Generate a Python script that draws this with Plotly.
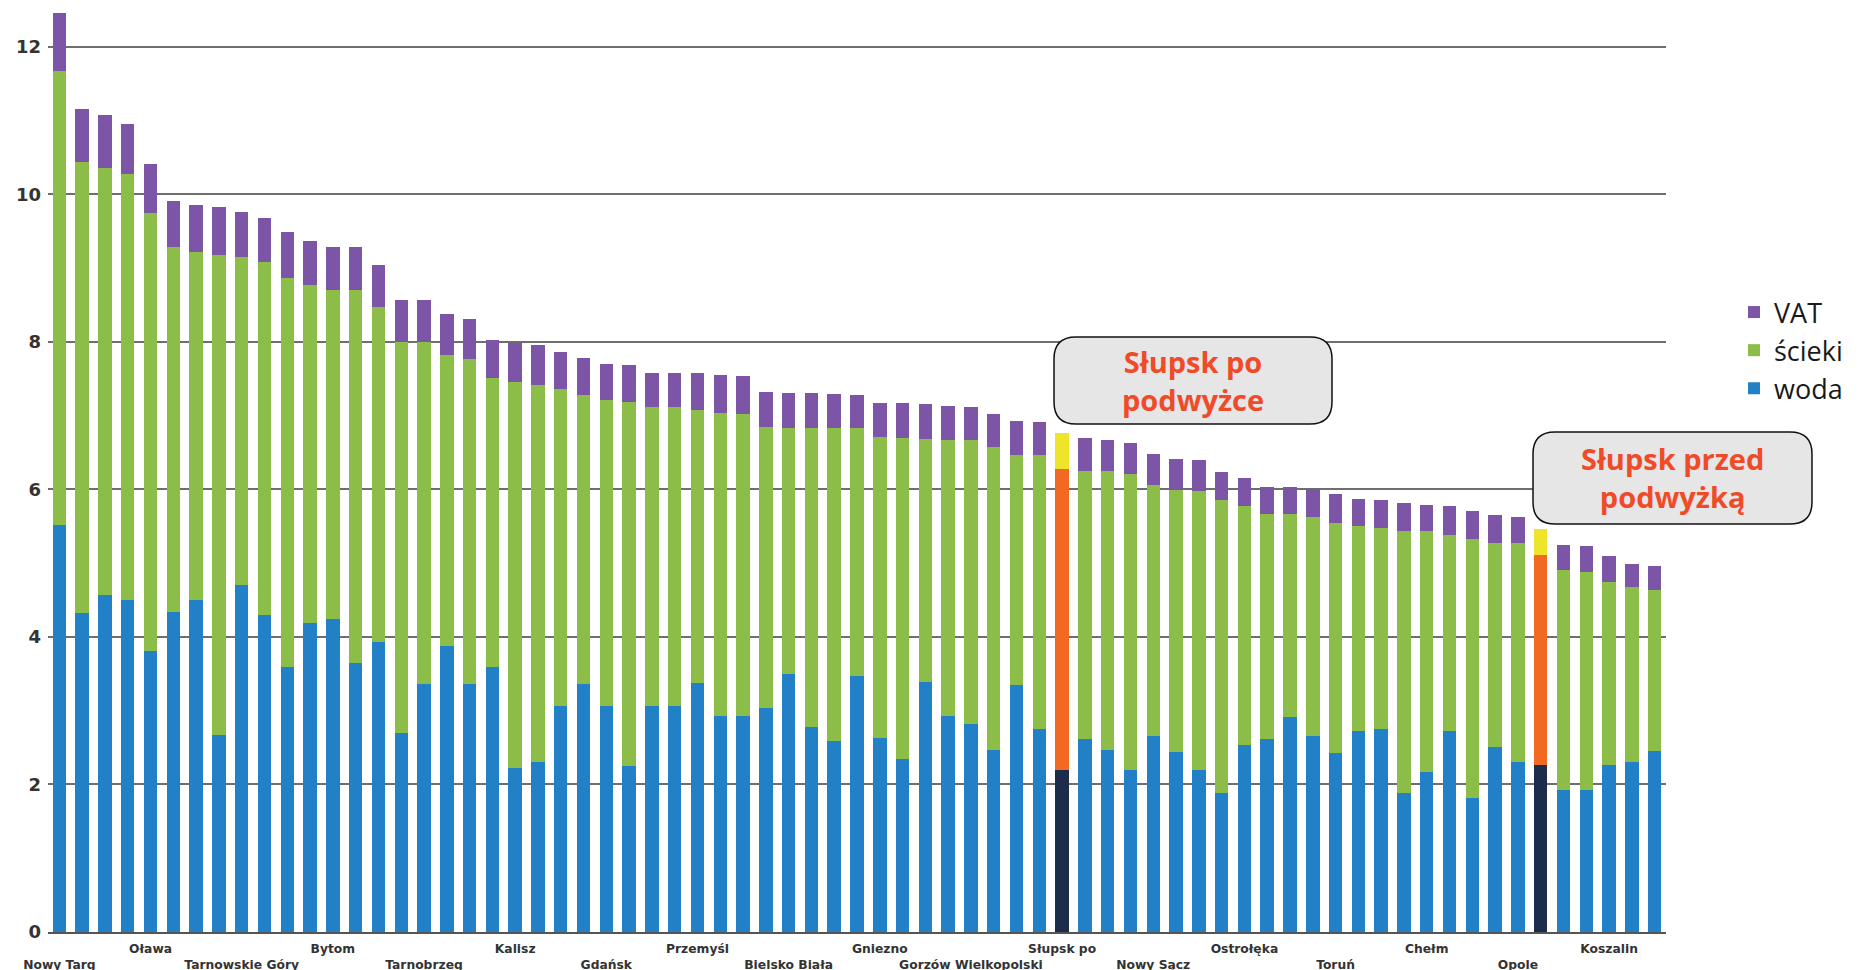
import plotly.graph_objects as go

# ---- data (zł/m3) ----
woda = [5.51, 4.32, 4.57, 4.50, 3.81, 4.34, 4.50, 2.67, 4.70, 4.30,
        3.59, 4.19, 4.24, 3.65, 3.93, 2.70, 3.36, 3.87, 3.36, 3.59,
        2.22, 2.30, 3.07, 3.36, 3.07, 2.25, 3.07, 3.07, 3.37, 2.93,
        2.93, 3.03, 3.50, 2.78, 2.59, 3.47, 2.63, 2.34, 3.39, 2.93,
        2.82, 2.47, 3.35, 2.75, 2.19, 2.62, 2.47, 2.19, 2.65, 2.44,
        2.19, 1.89, 2.54, 2.62, 2.92, 2.65, 2.43, 2.73, 2.75, 1.89,
        2.17, 2.73, 1.81, 2.51, 2.30, 2.26, 1.92, 1.92, 2.26, 2.31, 2.45]
scieki = [6.16, 6.11, 5.78, 5.78, 5.93, 4.95, 4.72, 6.51, 4.45, 4.78,
          5.28, 4.58, 4.46, 5.05, 4.54, 5.30, 4.64, 3.95, 4.40, 3.92,
          5.24, 5.12, 4.29, 3.92, 4.14, 4.93, 4.04, 4.04, 3.71, 4.11,
          4.09, 3.81, 3.33, 4.05, 4.24, 3.36, 4.08, 4.36, 3.29, 3.74,
          3.85, 4.11, 3.12, 3.71, 4.09, 3.63, 3.78, 4.02, 3.41, 3.55,
          3.79, 3.96, 3.23, 3.05, 2.75, 2.98, 3.12, 2.77, 2.72, 3.55,
          3.26, 2.65, 3.52, 2.76, 2.97, 2.85, 2.99, 2.96, 2.49, 2.36, 2.18]
vat = [0.79, 0.73, 0.72, 0.67, 0.67, 0.62, 0.64, 0.64, 0.61, 0.60,
       0.62, 0.60, 0.58, 0.58, 0.57, 0.56, 0.56, 0.55, 0.55, 0.51,
       0.53, 0.53, 0.50, 0.50, 0.49, 0.50, 0.47, 0.47, 0.49, 0.51,
       0.52, 0.48, 0.48, 0.48, 0.46, 0.45, 0.46, 0.47, 0.47, 0.46,
       0.45, 0.44, 0.45, 0.45, 0.48, 0.44, 0.42, 0.42, 0.42, 0.42,
       0.42, 0.39, 0.38, 0.36, 0.36, 0.38, 0.38, 0.37, 0.38, 0.37,
       0.36, 0.39, 0.37, 0.38, 0.36, 0.35, 0.34, 0.35, 0.35, 0.32, 0.33]

label_positions = [0, 4, 8, 12, 16, 20, 24, 28, 32, 36, 40, 44, 48, 52, 56, 60, 64, 68]
label_names = ["Nowy Targ", "Oława", "Tarnowskie Góry", "Bytom", "Tarnobrzeg", "Kalisz",
               "Gdańsk", "Przemyśl", "Bielsko Biała", "Gniezno", "Gorzów Wielkopolski",
               "Słupsk po", "Nowy Sącz", "Ostrołęka", "Toruń", "Chełm", "Opole", "Koszalin"]
slupsk_positions = [44, 65]
y_ticks = [0, 2, 4, 6, 8, 10, 12]

# ---- styling ----
C_WODA, C_SCIEKI, C_VAT = "#2180c6", "#8bbd48", "#7d55a6"
H_WODA, H_SCIEKI, H_VAT = "#1b2d4a", "#f26a22", "#eee52a"
RED = "#f04b28"

n = len(woda)
x = list(range(n))


def colors(base, hi):
    return [hi if i in slupsk_positions else base for i in range(n)]


fig = go.Figure()
fig.add_bar(x=x, y=woda, name="woda", marker=dict(color=colors(C_WODA, H_WODA), line_width=0))
fig.add_bar(x=x, y=scieki, name="ścieki", marker=dict(color=colors(C_SCIEKI, H_SCIEKI), line_width=0))
fig.add_bar(x=x, y=vat, name="VAT", marker=dict(color=colors(C_VAT, H_VAT), line_width=0))

ticktext = []
for j, name in enumerate(label_names):
    ticktext.append(("<br>" + name) if j % 2 == 0 else name)

# page has an 8px body margin; figure is sized to fit the 1867x970 window
OFF = 8
W, H = 1867 - OFF, 970 - OFF
L, R, T, B = 40, 201, 0, 38
PW, PH = W - L - R, H - T - B


def px(X):  # page pixel -> paper
    return (X - OFF - L) / PW


def py(Y):
    return (T + PH - (Y - OFF)) / PH


def rrect(x0, y0, x1, y1, r):
    def P(X, Y):
        return f"{px(X):.5f},{py(Y):.5f}"
    return (f"M {P(x0 + r, y0)} L {P(x1 - r, y0)} Q {P(x1, y0)} {P(x1, y0 + r)} "
            f"L {P(x1, y1 - r)} Q {P(x1, y1)} {P(x1 - r, y1)} L {P(x0 + r, y1)} "
            f"Q {P(x0, y1)} {P(x0, y1 - r)} L {P(x0, y0 + r)} Q {P(x0, y0)} {P(x0 + r, y0)} Z")


boxes = [
    (1054, 337, 1332, 424, "Słupsk po<br>podwyżce"),
    (1533, 432, 1812, 524, "Słupsk przed<br>podwyżką"),
]
shapes, annots = [], []
for (x0, y0, x1, y1, txt) in boxes:
    shapes.append(dict(type="path", xref="paper", yref="paper", path=rrect(x0, y0, x1, y1, 22),
                       fillcolor="#e6e6e6", line=dict(color="#111111", width=1.5), layer="above"))
    annots.append(dict(xref="paper", yref="paper", x=px((x0 + x1) / 2), y=py((y0 + y1) / 2),
                       text=txt, showarrow=False, xanchor="center", yanchor="middle",
                       font=dict(family="Open Sans", size=29, color=RED, weight="bold")))

fig.update_layout(
    width=W, height=H,
    margin=dict(l=L, r=R, t=T, b=B, autoexpand=False),
    barmode="stack", bargap=0.41,
    plot_bgcolor="white", paper_bgcolor="white",
    font=dict(family="Open Sans", color="#222"),
    legend=dict(x=px(1734), y=py(288), xanchor="left", yanchor="top", traceorder="reversed",
                font=dict(family="Open Sans", size=27, color="#1a1a1a"), itemwidth=30,
                tracegroupgap=0, bgcolor="rgba(0,0,0,0)"),
    shapes=shapes, annotations=annots,
    xaxis=dict(range=[-0.5, n - 0.5], tickmode="array", tickvals=label_positions, ticktext=ticktext,
               tickangle=0, automargin=False, ticklabelstandoff=4,
               showgrid=False, zeroline=False, showline=True, linecolor="#555", linewidth=1.5,
               ticks="", tickfont=dict(family="DejaVu Sans", size=12.3, color="#333", weight="bold")),
    yaxis=dict(range=[0, (PH) / 73.78], tickmode="array", tickvals=y_ticks, showgrid=True,
               automargin=False, ticklabelstandoff=6,
               gridcolor="#6e6e6e", gridwidth=1.5, zeroline=False, showline=False, ticks="",
               tickfont=dict(family="DejaVu Sans", size=18, color="#333", weight="bold")),
)

fig.write_html("out.html")
